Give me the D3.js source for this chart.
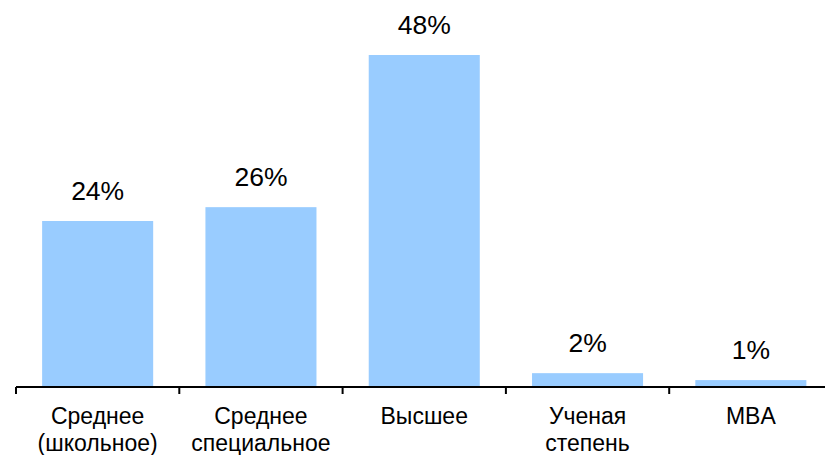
<!DOCTYPE html>
<html>
<head>
<meta charset="utf-8">
<script src="https://cdn.jsdelivr.net/npm/d3@7"></script>
<style>
  html, body { margin: 0; padding: 0; background: #fff; }
  svg { display: block; }
  text { font-family: "Liberation Sans", Arial, sans-serif; fill: #000; }
</style>
</head>
<body>
<svg id="chart" width="825" height="455"></svg>
<script>
// Education level distribution
const categories = [
  ["Среднее", "(школьное)"],
  ["Среднее", "специальное"],
  ["Высшее"],
  ["Ученая", "степень"],
  ["MBA"]
];
const values = [24, 26, 48, 2, 1];
const valueLabels = ["24%", "26%", "48%", "2%", "1%"];

const svg = d3.select("#chart");
const width = 825, height = 455;
const baseY = 387;
const left = 16, step = 163.3;

const keys = categories.map((c, i) => i);
const x = d3.scaleBand()
  .domain(keys)
  .range([left, left + step * keys.length])
  .paddingInner(0.32)
  .paddingOuter(0.16);

const y = d3.scaleLinear()
  .domain([0, 48])
  .range([baseY, 55]);

// bars
svg.append("g")
  .selectAll("rect")
  .data(values)
  .join("rect")
  .attr("x", (d, i) => x(i))
  .attr("width", x.bandwidth())
  .attr("y", d => y(d))
  .attr("height", d => baseY - y(d))
  .attr("fill", "#99ccff");

// value labels
svg.append("g")
  .selectAll("text")
  .data(values)
  .join("text")
  .attr("x", (d, i) => x(i) + x.bandwidth() / 2)
  .attr("y", d => y(d) - 21)
  .attr("text-anchor", "middle")
  .attr("font-size", 26.5)
  .text((d, i) => valueLabels[i]);

// category axis with boundary ticks
const axis = svg.append("g");
axis.append("line")
  .attr("x1", left).attr("x2", width)
  .attr("y1", baseY).attr("y2", baseY)
  .attr("stroke", "#000").attr("stroke-width", 2);
const bounds = d3.range(keys.length).map(i => x(i) - x.step() * x.paddingInner() / 2);
bounds[0] = left;
axis.selectAll("line.tick")
  .data(bounds)
  .join("line")
  .attr("class", "tick")
  .attr("x1", d => d).attr("x2", d => d)
  .attr("y1", baseY).attr("y2", baseY + 7)
  .attr("stroke", "#000").attr("stroke-width", 2);

// category labels
const labels = axis.selectAll("text")
  .data(categories)
  .join("text")
  .attr("text-anchor", "middle")
  .attr("font-size", 23)
  .attr("x", (d, i) => x(i) + x.bandwidth() / 2)
  .attr("y", 424);
labels.selectAll("tspan")
  .data(d => d)
  .join("tspan")
  .attr("x", function () { return this.parentNode.getAttribute("x"); })
  .attr("dy", (d, j) => j === 0 ? 0 : 26.5)
  .text(d => d);
</script>
</body>
</html>
